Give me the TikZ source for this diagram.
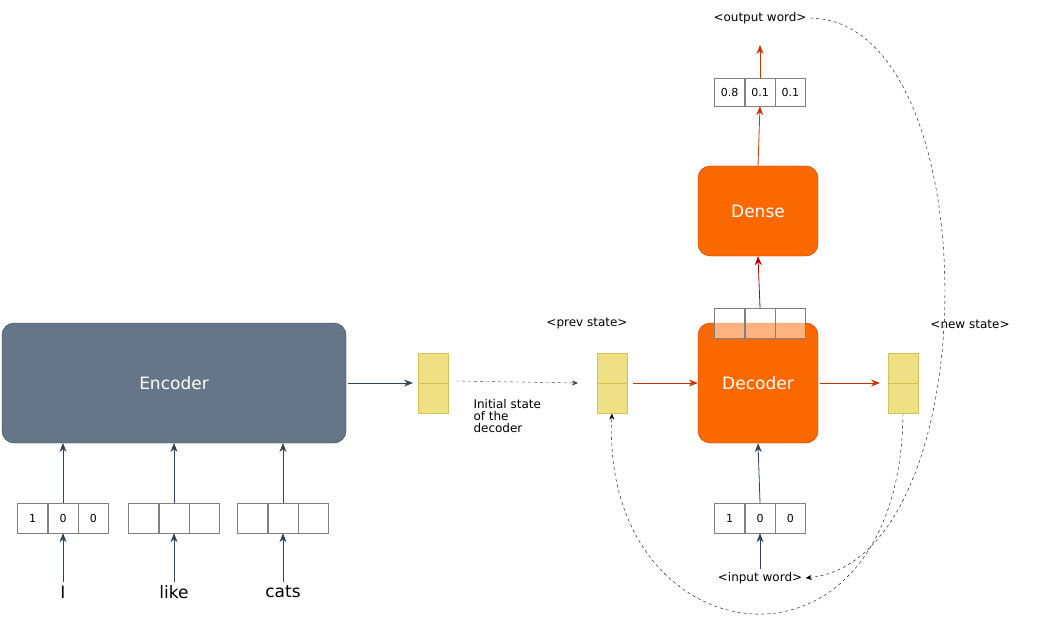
\documentclass[tikz,border=0pt]{standalone}
\usepackage{fontspec}
\setmainfont{DejaVu Sans}
\usetikzlibrary{arrows.meta,positioning}
\definecolor{encfill}{HTML}{647687}
\definecolor{encdraw}{HTML}{314354}
\definecolor{decfill}{HTML}{FA6800}
\definecolor{decdraw}{HTML}{C73500}
\definecolor{stfill}{HTML}{F0E084}
\definecolor{stdraw}{HTML}{D6C05A}
\definecolor{darkred}{HTML}{B20000}
\tikzset{
	block/.style={rounded corners=12pt, minimum height=120pt, font=\fontsize{17}{17}\selectfont, text=white},
	cell/.style={draw=gray, minimum width=30pt, minimum height=30pt, inner sep=0pt, font=\fontsize{11}{11}\selectfont},
	half/.style={draw=stdraw, fill=stfill, minimum width=30pt, minimum height=30pt, inner sep=0pt},
	lbl/.style={font=\fontsize{12}{12}\selectfont},
	word/.style={font=\fontsize{17}{17}\selectfont},
	enc/.style={-{Stealth[length=9pt,width=7pt]}, encdraw, thick},
	dec/.style={-{Stealth[length=9pt,width=7pt]}, decdraw, thick},
	loop/.style={-{Stealth[length=6pt,width=5pt]}, dashed, thin}
}
\begin{document}
\begin{tikzpicture}[x=1pt,y=-1pt]
	\useasboundingbox (0,0) rectangle (1059,639);
	% encoder side
	\node[block, fill=encfill, draw=encdraw, minimum width=344pt] (enc) at (174,383) {Encoder};
	\foreach \n/\x/\w/\a/\b/\c in {I/63/I/1/0/0, like/174/like//, cats/283/cats//} {
		\node[cell] (\n2) at (\x,518) {\b};
		\node[cell, left=0pt of \n2] (\n1) {\a};
		\node[cell, right=0pt of \n2] (\n3) {\c};
		\node[word] (w\n) at (\x,592) {\w};
		\draw[enc] (w\n) -- (\n2);
		\draw[enc] (\n2.north) -- (\x,443);
	}
	\node[half] (e1) at (433,368) {};
	\node[half, below=0pt of e1] (e2) {};
	\draw[enc] (enc.east) ++(2,0) coordinate (eo) -- (413,383);
	% initial state
	\node[half] (p1) at (612,368) {};
	\node[half, below=0pt of p1] (p2) {};
	\draw[loop, encdraw] (456,381) -- (578,383);
	\node[lbl, align=left, anchor=north west] (init) at (470,396) {Initial state\\of the\\decoder};
	\node[lbl] (prev) at (587,324) {<prev state>};
	% decoder
	\node[block, fill=decfill, draw=decdraw, minimum width=120pt] (dec) at (758,383) {Decoder};
	\draw[dec] (633,383) -- (dec.west);
	\node[half] (n1) at (903,368) {};
	\node[half, below=0pt of n1] (n2) {};
	\draw[dec] (dec.east) ++(2,0) -- (880,383);
	\node[lbl] (new) at (970,324) {<new state>};
	\node[cell, fill=white, fill opacity=0.5, text opacity=1] (h2) at (760,323) {};
	\node[cell, fill=white, fill opacity=0.5, left=0pt of h2] (h1) {};
	\node[cell, fill=white, fill opacity=0.5, right=0pt of h2] (h3) {};
	% dense
	\node[block, fill=decfill, draw=decdraw, minimum width=120pt, minimum height=90pt] (dense) at (758,211) {Dense};
	\draw[-{Stealth[length=9pt,width=7pt]}, darkred, thick] (h2.north) -- (dense.south);
	\node[cell, minimum height=28pt] (o2) at (760,92) {0.1};
	\node[cell, minimum height=28pt, left=0pt of o2] (o1) {0.8};
	\node[cell, minimum height=28pt, right=0pt of o2] (o3) {0.1};
	\draw[dec] (dense.north) -- (o2.south);
	\draw[dec] (o2.north) -- (760,45);
	\node[lbl] (out) at (760,18) {<output word>};
	% decoder input
	\node[cell] (i2) at (760,518) {0};
	\node[cell, left=0pt of i2] (i1) {1};
	\node[cell, right=0pt of i2] (i3) {0};
	\node[lbl] (in) at (760,578) {<input word>};
	\draw[enc] (in) -- (i2);
	\draw[enc] (i2.north) -- (dec.south);
	% feedback loops
	\draw[loop] (out.east) .. controls (990,20) and (990,560) .. (in.east);
	\draw[loop] (n2.south) .. controls (900,700) and (600,660) .. (p2.south);
\end{tikzpicture}
\end{document}
